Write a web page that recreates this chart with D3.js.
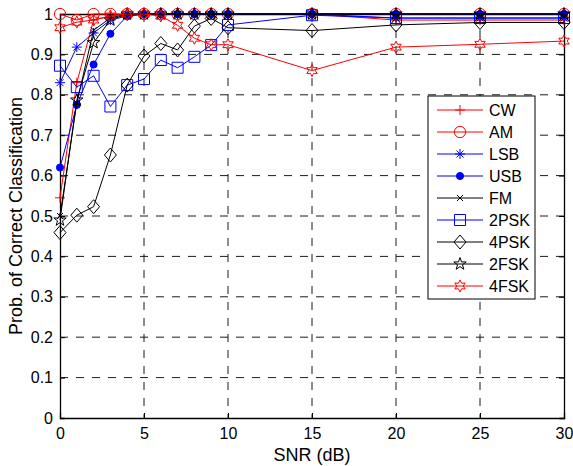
<!DOCTYPE html>
<html>
<head>
<meta charset="utf-8">
<script src="https://cdn.jsdelivr.net/npm/d3@7"></script>
<style>
  body { margin: 0; background: #fff; }
  text { font-family: "Liberation Sans", Arial, sans-serif; }
</style>
</head>
<body>
<svg id="chart"></svg>
<script>
var snr = [0, 1, 2, 3, 4, 5, 6, 7, 8, 9, 10, 15, 20, 25, 30];

var cw    = [0.545, 0.83, 0.985, 0.995, 1, 1, 1, 1, 1, 1, 1, 1, 0.985, 0.985, 0.985];
var am    = [1, 0.985, 1, 1, 1, 1, 1, 1, 1, 1, 1, 1, 1, 1, 1];
var lsb   = [0.83, 0.918, 0.953, 0.985, 0.995, 1, 1, 1, 1, 1, 1, 1, 0.99, 0.99, 0.99];
var usb   = [0.62, 0.775, 0.875, 0.951, 0.995, 1, 1, 1, 1, 1, 1, 1, 1, 1, 1];
var fm    = [0.5, 0.78, 0.96, 0.99, 1, 1, 1, 1, 1, 1, 1, 1, 1, 1, 1];
var psk2  = [0.872, 0.819, 0.847, 0.771, 0.824, 0.839, 0.886, 0.867, 0.894, 0.923, 0.973, 0.997, 0.99, 0.99, 0.99];
var psk4  = [0.459, 0.502, 0.523, 0.651, 0.824, 0.896, 0.927, 0.911, 0.97, 0.989, 0.966, 0.959, 0.973, 0.979, 0.979];
var fsk2  = [0.49, 0.787, 0.929, 0.985, 1, 1, 1, 1, 1, 1, 1, 1, 1, 1, 1];
var fsk4  = [0.966, 0.98, 0.985, 0.995, 1, 1, 0.995, 0.972, 0.94, 0.924, 0.924, 0.86, 0.918, 0.925, 0.933];

var names   = ["CW", "AM", "LSB", "USB", "FM", "2PSK", "4PSK", "2FSK", "4FSK"];
var colors  = ["#ff0000", "#ff0000", "#0000ff", "#0000ff", "#000000", "#0000ff", "#000000", "#000000", "#ff0000"];
var markers = ["plus", "circle", "asterisk", "dot", "xmark", "square", "diamond", "pentagram", "hexagram"];
var values  = [cw, am, lsb, usb, fm, psk2, psk4, fsk2, fsk4];

var xTicks = [0, 5, 10, 15, 20, 25, 30];
var yTicks = [0, 0.1, 0.2, 0.3, 0.4, 0.5, 0.6, 0.7, 0.8, 0.9, 1];

var W = 573, H = 466;
var margin = {top: 14, right: 9, bottom: 48, left: 60};
var width = W - margin.left - margin.right,
    height = H - margin.top - margin.bottom;

var svg = d3.select("#chart").attr("width", W).attr("height", H);
var g = svg.append("g").attr("transform", "translate(" + margin.left + "," + margin.top + ")");

var x = d3.scaleLinear().domain([0, 30]).range([0, width]);
var y = d3.scaleLinear().domain([0, 1]).range([height, 0]);

// dashed grid
g.selectAll(".gx").data(xTicks.slice(1, -1)).enter().append("line")
  .attr("x1", d => x(d)).attr("x2", d => x(d)).attr("y1", 0).attr("y2", height)
  .attr("stroke", "#000").attr("stroke-width", 0.9).attr("stroke-dasharray", "8,8");
g.selectAll(".gy").data(yTicks.slice(1, -1)).enter().append("line")
  .attr("y1", d => y(d)).attr("y2", d => y(d)).attr("x1", 0).attr("x2", width)
  .attr("stroke", "#000").attr("stroke-width", 0.9).attr("stroke-dasharray", "8,8");

// axes with inward ticks
g.append("g").attr("transform", "translate(0," + height + ")")
  .call(d3.axisBottom(x).tickValues(xTicks).tickSize(-5).tickPadding(10));
g.append("g")
  .call(d3.axisLeft(y).tickValues(yTicks).tickSize(-5).tickPadding(7).tickFormat(d3.format("~g")));
g.append("g").call(d3.axisTop(x).tickValues(xTicks).tickSize(-5).tickFormat(""));
g.append("g").attr("transform", "translate(" + width + ",0)")
  .call(d3.axisRight(y).tickValues(yTicks).tickSize(-5).tickFormat(""));
g.selectAll(".domain").attr("stroke", "#000").attr("stroke-width", 1.3);
g.selectAll(".tick text").style("font-size", "16px").attr("fill", "#000");

// marker shapes
function markerPath(type) {
  var s = 5;
  switch (type) {
    case "plus": return "M" + (-s) + ",0H" + s + "M0," + (-s) + "V" + s;
    case "asterisk":
      var a = s * 0.7;
      return "M" + (-s) + ",0H" + s + "M0," + (-s) + "V" + s +
             "M" + (-a) + "," + (-a) + "L" + a + "," + a + "M" + (-a) + "," + a + "L" + a + "," + (-a);
    case "xmark": var b = 3; return "M" + (-b) + "," + (-b) + "L" + b + "," + b + "M" + (-b) + "," + b + "L" + b + "," + (-b);
    case "square": return "M-5.5,-5.5H5.5V5.5H-5.5Z";
    case "diamond": return "M0,-7L6,0L0,7L-6,0Z";
    case "circle": return d3.symbol(d3.symbolCircle, 100)();
    case "dot": return d3.symbol(d3.symbolCircle, 40)();
    case "pentagram":
      var p = [];
      for (var i = 0; i < 10; i++) {
        var r = i % 2 ? 2.6 : 6.5, ang = -Math.PI / 2 + i * Math.PI / 5;
        p.push([r * Math.cos(ang), r * Math.sin(ang)]);
      }
      return "M" + p.join("L") + "Z";
    case "hexagram":
      var q = [];
      for (var j = 0; j < 12; j++) {
        var rr = j % 2 ? 3.2 : 6, an = -Math.PI / 2 + j * Math.PI / 6;
        q.push([rr * Math.cos(an), rr * Math.sin(an)]);
      }
      return "M" + q.join("L") + "Z";
  }
}

var line = d3.line().x(d => x(d[0])).y(d => y(d[1]));

values.forEach(function(vals, k) {
  var pts = snr.map((s, i) => [s, vals[i]]);
  g.append("path").datum(pts)
    .attr("d", line).attr("fill", "none")
    .attr("stroke", colors[k]).attr("stroke-width", 1);
  g.selectAll(".m" + k).data(pts).enter().append("path")
    .attr("transform", d => "translate(" + x(d[0]) + "," + y(d[1]) + ")")
    .attr("d", markerPath(markers[k]))
    .attr("fill", markers[k] === "dot" ? colors[k] : "none")
    .attr("stroke", colors[k]).attr("stroke-width", 1);
});

// legend
var lg = svg.append("g").attr("transform", "translate(428,96)");
lg.append("rect").attr("width", 107).attr("height", 203)
  .attr("fill", "#fff").attr("stroke", "#000").attr("stroke-width", 1);
names.forEach(function(n, k) {
  var yy = 14 + k * 22;
  lg.append("line").attr("x1", 9).attr("x2", 55).attr("y1", yy).attr("y2", yy)
    .attr("stroke", colors[k]).attr("stroke-width", 1);
  lg.append("path").attr("transform", "translate(32," + yy + ")")
    .attr("d", markerPath(markers[k]))
    .attr("fill", markers[k] === "dot" ? colors[k] : "none")
    .attr("stroke", colors[k]).attr("stroke-width", 1);
  lg.append("text").attr("x", 61).attr("y", yy).attr("dy", "0.36em")
    .style("font-size", "16px").text(n);
});

// axis titles
svg.append("text").attr("x", margin.left + width / 2).attr("y", 461)
  .attr("text-anchor", "middle").style("font-size", "18px").text("SNR (dB)");
svg.append("text").attr("transform", "translate(22," + (margin.top + height / 2) + ") rotate(-90)")
  .attr("text-anchor", "middle").style("font-size", "18px").text("Prob. of Correct Classification");
</script>
</body>
</html>
